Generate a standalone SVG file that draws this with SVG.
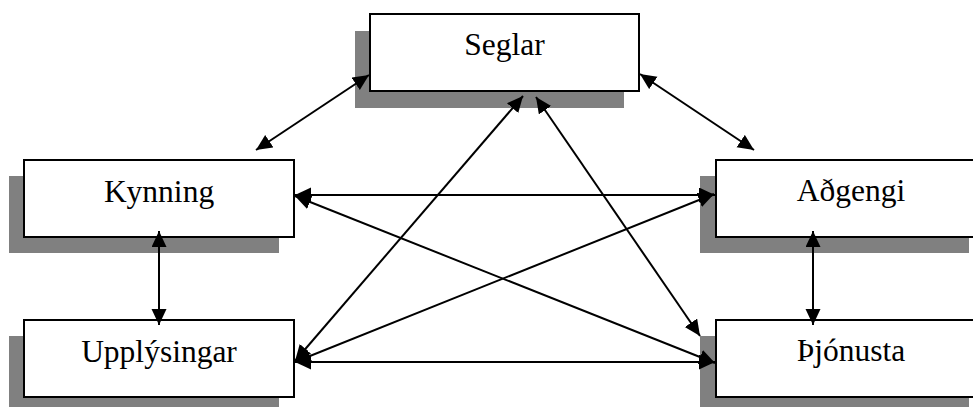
<svg xmlns="http://www.w3.org/2000/svg" width="973" height="407" viewBox="0 0 973 407">
<style>
.shadow{fill:#808080;stroke:none}
.box{fill:#fff;stroke:#000;stroke-width:2}
.lbl{font-family:"Liberation Serif","Times New Roman",serif;font-size:31.5px;fill:#000;text-anchor:middle}
.con{stroke:#000;stroke-width:2;fill:none;marker-start:url(#ah);marker-end:url(#ah)}
</style>
<defs>
<marker id="ah" markerUnits="userSpaceOnUse" markerWidth="17" markerHeight="16" refX="16" refY="7.5" orient="auto-start-reverse" viewBox="0 0 17 16" preserveAspectRatio="none">
<path d="M0,0 L16,7.5 L0,15 z" fill="#000"/>
</marker>
</defs>
<rect width="973" height="407" fill="#fff"/>
<g id="seglar">
<rect class="shadow" x="355" y="31" width="269" height="77"/>
<rect class="box" x="370" y="14" width="269" height="77"/>
<text class="lbl" x="504.5" y="55">Seglar</text>
</g>
<g id="kynning">
<rect class="shadow" x="9" y="176" width="270" height="77"/>
<rect class="box" x="24" y="160" width="270" height="77"/>
<text class="lbl" x="159" y="202">Kynning</text>
</g>
<g id="adgengi">
<rect class="shadow" x="700" y="176" width="269" height="77"/>
<rect class="box" x="716" y="160" width="270" height="77"/>
<text class="lbl" x="851" y="201">Aðgengi</text>
</g>
<g id="upplysingar">
<rect class="shadow" x="9" y="336" width="270" height="77"/>
<rect class="box" x="24" y="320" width="270" height="77"/>
<text class="lbl" x="159" y="362">Upplýsingar</text>
</g>
<g id="thjonusta">
<rect class="shadow" x="700" y="336" width="269" height="77"/>
<rect class="box" x="716" y="320" width="270" height="77"/>
<text class="lbl" x="851" y="361">Þjónusta</text>
</g>
<g id="connectors">
<line class="con" x1="256" y1="150" x2="369" y2="75"/>
<line class="con" x1="640" y1="74" x2="754" y2="150"/>
<line class="con" x1="295" y1="195" x2="715" y2="195"/>
<line class="con" x1="295" y1="196" x2="715" y2="363"/>
<line class="con" x1="295" y1="362" x2="714" y2="194"/>
<line class="con" x1="295" y1="362" x2="715" y2="362"/>
<line class="con" x1="295" y1="361" x2="523" y2="96"/>
<line class="con" x1="536" y1="97" x2="700" y2="336"/>
<line class="con" x1="159" y1="231" x2="159" y2="325"/>
<line class="con" x1="813" y1="231" x2="813" y2="325"/>
</g>
</svg>
